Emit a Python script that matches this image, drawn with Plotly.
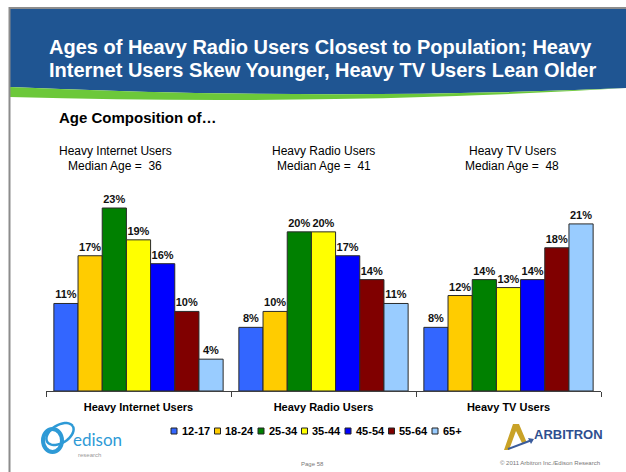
import math
import plotly.graph_objects as go

W, H = 626, 472

groups = ["Heavy Internet Users", "Heavy Radio Users", "Heavy TV Users"]
ages = ["12-17", "18-24", "25-34", "35-44", "45-54", "55-64", "65+"]
internet = [11, 17, 23, 19, 16, 10, 4]
radio = [8, 10, 20, 20, 17, 14, 11]
tv = [8, 12, 14, 13, 14, 18, 21]
median_ages = [36, 41, 48]
colors = ["#3366FF", "#FFCC00", "#008000", "#FFFF00", "#0000FF", "#800000", "#99CCFF"]

title_lines = ["Ages of Heavy Radio Users Closest to Population; Heavy",
               "Internet Users Skew Younger, Heavy TV Users Lean Older"]
subtitle = "Age Composition of\u2026"
page_text = "Page 58"
copyright_text = "\u00a9 2011 Arbitron Inc./Edison Research"

FONT = "Liberation Sans, Arial, sans-serif"


def X(px):
    return px / W


def Y(py):
    return 1 - py / H


fig = go.Figure()
series = [internet, radio, tv]
for i, age in enumerate(ages):
    vals = [s[i] for s in series]
    fig.add_trace(go.Bar(
        x=groups, y=vals, name=age,
        marker=dict(color=colors[i], line=dict(color="#2a2a2a", width=1)),
        text=[f"{v}%" for v in vals], textposition="outside",
        textfont=dict(family=FONT, size=11, color="#111", weight="bold"),
        cliponaxis=False, hoverinfo="skip",
    ))

axis_bottom, axis_top = 391, 190
px_per_unit = (391 - 208) / 23.0
yr_top = (axis_bottom - axis_top) / px_per_unit

shapes = []
# banner
shapes.append(dict(type="path", xref="paper", yref="paper",
                   path=f"M {X(10)},{Y(9)} L {X(626)},{Y(9)} L {X(626)},{Y(88)} Q {X(330)},{Y(101)} {X(10)},{Y(87)} Z",
                   fillcolor="#1F5592", line=dict(width=0), layer="below"))
shapes.append(dict(type="path", xref="paper", yref="paper",
                   path=f"M {X(10)},{Y(87)} Q {X(330)},{Y(101)} {X(626)},{Y(88)} Q {X(330)},{Y(106)} {X(10)},{Y(97)} Z",
                   fillcolor="#6CC83A", line=dict(width=0), layer="below"))
# slide border
shapes.append(dict(type="line", xref="paper", yref="paper", x0=X(9), x1=X(626), y0=Y(8), y1=Y(8),
                   line=dict(color="#8C8C8C", width=2)))
shapes.append(dict(type="line", xref="paper", yref="paper", x0=X(9.5), x1=X(9.5), y0=Y(7), y1=Y(472),
                   line=dict(color="#8C8C8C", width=2)))

annotations = []
for k, line in enumerate(title_lines):
    annotations.append(dict(text=line, x=X(47), y=Y(47 + 23 * k), xref="paper", yref="paper",
                            xanchor="left", yanchor="middle", showarrow=False,
                            font=dict(family=FONT, size=20, color="white", weight="bold")))
annotations.append(dict(text=subtitle, x=X(57), y=Y(117), xref="paper", yref="paper",
                        xanchor="left", yanchor="middle", showarrow=False,
                        font=dict(family=FONT, size=15, color="black", weight="bold")))
header_x = [115, 324, 512]
for g, m, hx in zip(groups, median_ages, header_x):
    annotations.append(dict(text=g, x=X(hx), y=Y(151), xref="paper", yref="paper",
                            xanchor="center", yanchor="middle", showarrow=False,
                            font=dict(family=FONT, size=12, color="black")))
    annotations.append(dict(text=f"Median Age =  {m}", x=X(hx), y=Y(166), xref="paper", yref="paper",
                            xanchor="center", yanchor="middle", showarrow=False,
                            font=dict(family=FONT, size=12, color="black")))

# legend (manual, compact like the original)
lx, ly, step = 171, 431, 43.5
for i, age in enumerate(ages):
    x0 = lx + i * step
    shapes.append(dict(type="rect", xref="paper", yref="paper",
                       x0=X(x0), x1=X(x0 + 6), y0=Y(ly - 3), y1=Y(ly + 3),
                       fillcolor=colors[i], line=dict(color="#222", width=1)))
    annotations.append(dict(text=age, x=X(x0 + 8.5), y=Y(ly), xref="paper", yref="paper",
                            xanchor="left", yanchor="middle", showarrow=False,
                            font=dict(family=FONT, size=11, color="black", weight="bold")))

# edison logo (approximate)
cx, cy, rx, ry, rot = 60, 434, 15, 9, -0.55
pts = []
for t in range(0, 361, 10):
    a = math.radians(t)
    ex, ey = rx * math.cos(a), ry * math.sin(a)
    pts.append((cx + ex * math.cos(rot) - ey * math.sin(rot), cy + ex * math.sin(rot) + ey * math.cos(rot)))
path = "M " + " L ".join(f"{X(p[0])},{Y(p[1])}" for p in pts)
shapes.append(dict(type="path", xref="paper", yref="paper", path=path,
                   line=dict(color="#2E9AD6", width=2.5)))
shapes.append(dict(type="circle", xref="paper", yref="paper", x0=X(43), x1=X(62), y0=Y(429), y1=Y(452),
                   line=dict(color="#2E9AD6", width=4)))
annotations.append(dict(text="edison", x=X(71), y=Y(439), xref="paper", yref="paper",
                        xanchor="left", yanchor="middle", showarrow=False,
                        font=dict(family="Lato, sans-serif", size=17, color="#2E9AD6")))
annotations.append(dict(text="research", x=X(76), y=Y(455), xref="paper", yref="paper",
                        xanchor="left", yanchor="middle", showarrow=False,
                        font=dict(family=FONT, size=6, color="#999")))

# arbitron logo (approximate)
shapes.append(dict(type="path", xref="paper", yref="paper",
                   path=f"M {X(504)},{Y(450)} L {X(513)},{Y(424)} L {X(519)},{Y(424)} L {X(527)},{Y(443)} L {X(522)},{Y(443)} L {X(516)},{Y(431)} L {X(509)},{Y(450)} Z",
                   fillcolor="#C9A227", line=dict(width=0)))
shapes.append(dict(type="line", xref="paper", yref="paper", x0=X(508), y0=Y(449), x1=X(532), y1=Y(440),
                   line=dict(color="#3A5C9C", width=2)))
shapes.append(dict(type="path", xref="paper", yref="paper",
                   path=f"M {X(534)},{Y(439)} L {X(528)},{Y(438)} L {X(531)},{Y(444)} Z",
                   fillcolor="#3A5C9C", line=dict(width=0)))
annotations.append(dict(text="ARBITRON", x=X(532), y=Y(434), xref="paper", yref="paper",
                        xanchor="left", yanchor="middle", showarrow=False,
                        font=dict(family=FONT, size=13, color="#2F4F8F", weight="bold")))

annotations.append(dict(text=page_text, x=X(312), y=Y(464), xref="paper", yref="paper",
                        xanchor="center", yanchor="middle", showarrow=False,
                        font=dict(family=FONT, size=6, color="#777")))
annotations.append(dict(text=copyright_text, x=X(602), y=Y(463), xref="paper", yref="paper",
                        xanchor="right", yanchor="middle", showarrow=False,
                        font=dict(family=FONT, size=6, color="#777")))

fig.update_layout(
    width=W, height=H, margin=dict(l=0, r=0, t=0, b=0),
    paper_bgcolor="white", plot_bgcolor="rgba(0,0,0,0)",
    showlegend=False, barmode="group", bargap=0.085, bargroupgap=0,
    xaxis=dict(domain=[X(46), X(601)], showline=True, linecolor="#404040", linewidth=1,
               ticks="outside", tickson="boundaries", ticklen=5, tickcolor="#404040",
               ticklabelstandoff=6,
               tickfont=dict(family=FONT, size=11, color="black", weight="bold"),
               showgrid=False, fixedrange=True),
    yaxis=dict(domain=[Y(axis_bottom), Y(axis_top)], range=[0, yr_top], visible=False,
               fixedrange=True),
    shapes=shapes, annotations=annotations,
    font=dict(family=FONT),
)

fig.write_html("out.html", config={"displayModeBar": False},
               post_script="document.body.style.margin='0';")
